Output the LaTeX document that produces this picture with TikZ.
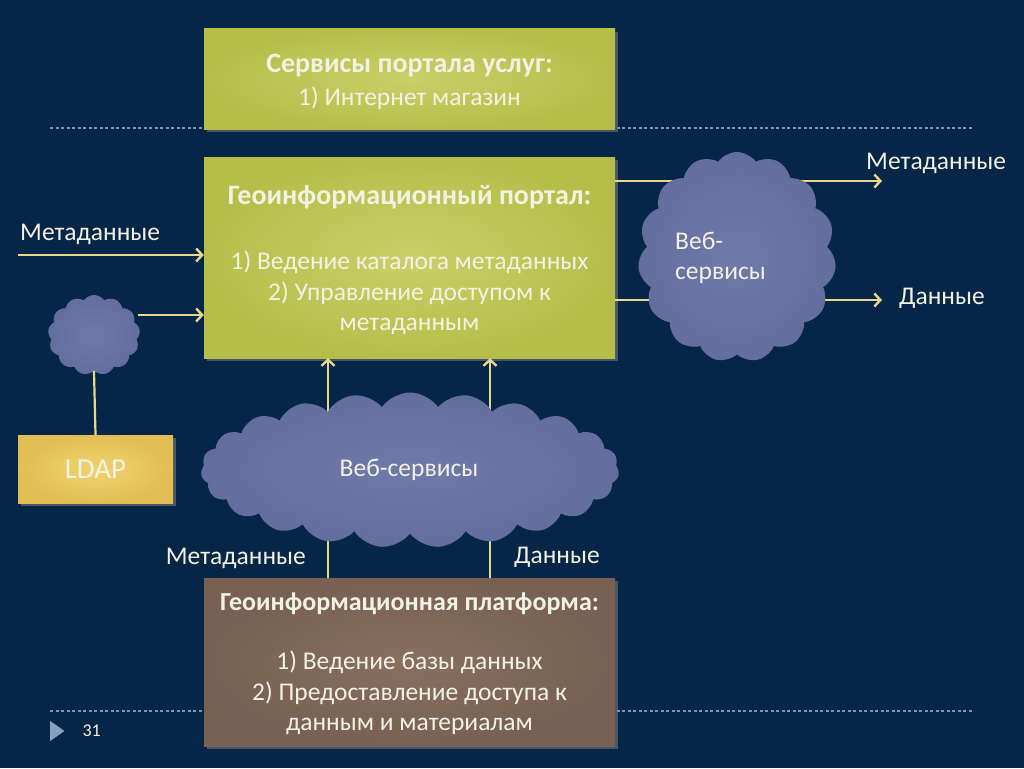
\documentclass[tikz,border=0pt]{standalone}
\usepackage{fontspec}
\setmainfont{Carlito}
\usetikzlibrary{shapes.symbols,shapes.geometric,arrows.meta,shadows,calc}
\definecolor{bgc}{RGB}{6,38,72}
\definecolor{txt}{RGB}{242,242,228}
\definecolor{linec}{RGB}{232,216,140}
\definecolor{dashc}{RGB}{120,150,185}
\definecolor{ygA}{RGB}{202,207,104}
\definecolor{ygB}{RGB}{182,190,74}
\definecolor{brA}{RGB}{136,111,94}
\definecolor{brB}{RGB}{120,97,82}
\definecolor{goA}{RGB}{240,212,112}
\definecolor{goB}{RGB}{226,190,84}
\definecolor{clA}{RGB}{112,122,170}
\definecolor{clB}{RGB}{100,110,158}
\begin{document}
\begin{tikzpicture}[x=1pt,y=-1pt,
  box/.style={rectangle, inner sep=0pt, text=txt, align=center,
    drop shadow={opacity=0.55, shadow xshift=3pt, shadow yshift=-3pt}},
  ygbox/.style={box, shading=radial, inner color=ygA, outer color=ygB},
  brbox/.style={box, shading=radial, inner color=brA, outer color=brB},
  gobox/.style={box, shading=radial, inner color=goA, outer color=goB},
  cloudn/.style={cloud, cloud ignores aspect, inner sep=0pt, text=txt,
    shading=radial, inner color=clA, outer color=clB},
  arr/.style={draw=linec, line width=2.4pt,
    -{Straight Barb[length=6pt,width=13pt,line width=2.4pt]}},
  plainline/.style={draw=linec, line width=2.2pt},
  dashline/.style={draw=dashc, line width=1.1pt, dash pattern=on 3pt off 2.5pt},
  lbl/.style={text=txt, inner sep=0pt, font=\fontsize{25.5}{30}\selectfont},
  txtn/.style={text=txt, inner sep=0pt, align=center}
]
\fill[bgc] (0,0) rectangle (1024,768);
\useasboundingbox (0,0) rectangle (1024,768);

% dashed separators
\coordinate (d1a) at (50,128);
\coordinate (d1b) at (972,128);
\coordinate (d2a) at (50,711);
\coordinate (d2b) at (972,711);
\draw[dashline] (d1a) -- (d1b);
\draw[dashline] (d2a) -- (d2b);

% boxes
\node[ygbox, minimum width=411pt, minimum height=100pt] (top) at (409.5,79) {};
\node[txtn, font=\fontsize{28}{33}\selectfont] (toptitle) at (409.5,66)
  {\textbf{Сервисы портала услуг:}};
\node[txtn, font=\fontsize{25.5}{30}\selectfont] (topbody) at (409.5,98)
  {1) Интернет магазин};

\node[ygbox, minimum width=411pt, minimum height=201pt] (mid) at (409.5,257.5) {};
\node[txtn, font=\fontsize{28}{33}\selectfont] (midtitle) at (409.5,197)
  {\textbf{Геоинформационный портал:}};
\node[txtn, font=\fontsize{25.5}{30.5}\selectfont] (midbody) at (409.5,293)
  {1) Ведение каталога метаданных\\2) Управление доступом к\\метаданным};

\node[brbox, minimum width=411pt, minimum height=168pt] (bot) at (409.5,662) {};
\node[txtn, font=\fontsize{26}{31}\selectfont] (bottitle) at (409.5,604)
  {\textbf{Геоинформационная платформа:}};
\node[txtn, font=\fontsize{25.5}{30.5}\selectfont] (botbody) at (409.5,693)
  {1) Ведение базы данных\\2) Предоставление доступа к\\данным и материалам};

\node[gobox, minimum width=155pt, minimum height=68pt, font=\fontsize{29}{33}\selectfont] (ldap) at (95.5,469) {LDAP};

% small cloud
\node[cloudn, cloud puffs=13, cloud puff arc=110, minimum width=92pt, minimum height=80pt] (sc) at (94,335) {};

% connectors
\coordinate (lstart) at (18,255);
\draw[arr] (lstart) -- (mid.west |- lstart);
\coordinate (scout) at (138,315);
\draw[arr] (scout) -- (mid.west |- scout);
\draw[plainline] (sc.south) -- (ldap.north);

\coordinate (metaend) at (882,181);
\coordinate (dataend) at (882,300);
\draw[arr] (mid.east |- metaend) -- (metaend);
\draw[arr] (mid.east |- dataend) -- (dataend);

\coordinate (xm) at (328,0);
\coordinate (xd) at (490,0);
\draw[arr] (bot.north -| xm) -- (mid.south -| xm);
\draw[arr] (bot.north -| xd) -- (mid.south -| xd);

% big clouds
\node[cloudn, cloud puffs=15, cloud puff arc=110, minimum width=198pt, minimum height=210pt] (rc) at (737,257) {};
\node[lbl, anchor=west, align=left, font=\fontsize{25.5}{30}\selectfont] (rctxt) at (675,258) {Веб-\\сервисы};

\node[cloudn, cloud puffs=23, cloud puff arc=110, minimum width=418pt, minimum height=155pt] (bc) at (410,470) {};
\node[lbl] (bctxt) at (409,470) {Веб-сервисы};

% labels
\node[lbl, anchor=west] (lmeta) at (20,234) {Метаданные};
\node[lbl, anchor=west] (rmeta) at (866,163) {Метаданные};
\node[lbl, anchor=west] (rdata) at (899,298) {Данные};
\node[lbl, anchor=east] (bmeta) at (306,558) {Метаданные};
\node[lbl, anchor=west] (bdata) at (514,557) {Данные};

% slide number
\node[isosceles triangle, isosceles triangle apex angle=70, fill=dashc!90!white, inner sep=0pt,
  minimum height=13pt, minimum width=20pt, anchor=west] (tri) at (50,731) {};
\node[text=txt, anchor=west, font=\fontsize{18}{20}\selectfont] (pnum) at (79,731) {31};
\end{tikzpicture}
\end{document}
